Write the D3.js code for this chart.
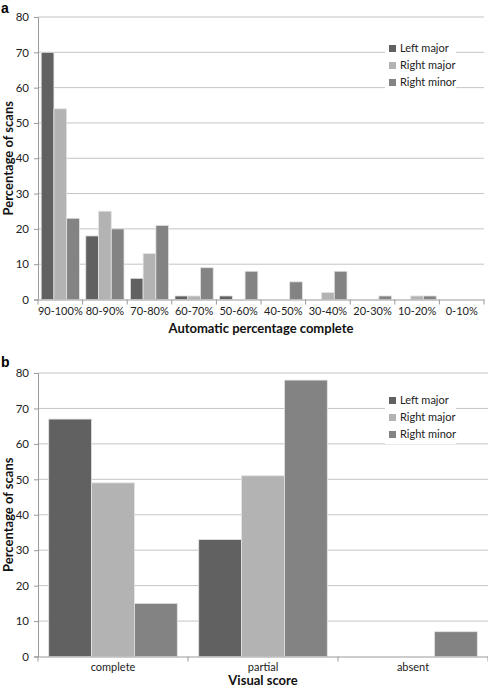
<!DOCTYPE html>
<html><head><meta charset="utf-8">
<script src="https://cdn.jsdelivr.net/npm/d3@7"></script>
<style>body{margin:0;background:#fff}svg{display:block}text{font-family:Lato,"Open Sans",sans-serif}</style>
</head><body><svg id="c" width="488" height="689"></svg>
<script>
const seriesNames = ["Left major", "Right major", "Right minor"];
const seriesColors = ["#616161", "#b3b3b3", "#838383"];
const catsA = ["90-100%","80-90%","70-80%","60-70%","50-60%","40-50%","30-40%","20-30%","10-20%","0-10%"];
const leftMajorA  = [70, 18, 6, 1, 1, 0, 0, 0, 0, 0];
const rightMajorA = [54, 25, 13, 1, 0, 0, 2, 0, 1, 0];
const rightMinorA = [23, 20, 21, 9, 8, 5, 8, 1, 1, 0];
const catsB = ["complete", "partial", "absent"];
const leftMajorB  = [67, 33, 0];
const rightMajorB = [49, 51, 0];
const rightMinorB = [15, 78, 7];
const yTicks = [0, 10, 20, 30, 40, 50, 60, 70, 80];

const svg = d3.select("#c");

function panel(o) {
  const g = svg.append("g");
  const x = d3.scaleBand().domain(o.cats).range([o.x0, o.x1]).paddingInner(0).paddingOuter(0);
  const inner = d3.scaleBand().domain(seriesNames).range([0, x.bandwidth()]).paddingInner(0).paddingOuter(0.25);
  const y = d3.scaleLinear().domain([0, 80]).range([o.yb, o.yt]);
  g.selectAll(".grid").data(yTicks.filter(d => d > 0)).enter().append("line")
    .attr("x1", o.x0).attr("x2", o.x1).attr("y1", d => y(d)).attr("y2", d => y(d))
    .attr("stroke", "#c4c4c4").attr("stroke-width", 1);
  const ya = g.append("g").attr("transform", `translate(${o.x0},0)`)
    .call(d3.axisLeft(y).tickValues(yTicks).tickSize(4).tickPadding(5));
  ya.select(".domain").attr("stroke", "#9a9a9a");
  ya.selectAll(".tick line").attr("stroke", "#9a9a9a");
  ya.selectAll("text").attr("font-size", 11.5).attr("fill", "#222").style("font-family", "Lato");
  o.series.forEach((vals, si) => {
    g.selectAll(".b" + si).data(vals).enter().append("rect")
      .attr("x", (d, i) => x(o.cats[i]) + inner(seriesNames[si]))
      .attr("width", inner.bandwidth())
      .attr("y", d => y(d))
      .attr("height", d => y(0) - y(d))
      .attr("fill", seriesColors[si])
      .attr("stroke", d => d > 0 ? "#e4e4e4" : "none").attr("stroke-width", 0.8);
  });
  const xa = g.append("g").attr("transform", `translate(0,${o.yb})`)
    .call(d3.axisBottom(x).tickSize(0).tickPadding(o.tickPad));
  xa.select(".domain").attr("stroke", "#9a9a9a");
  xa.selectAll("text").attr("font-size", 11).attr("fill", "#222").style("font-family", "Lato");
  const bounds = o.cats.map(c => x(c)).concat([o.x1]);
  g.selectAll(".xt").data(bounds).enter().append("line")
    .attr("x1", d => d).attr("x2", d => d).attr("y1", o.yb).attr("y2", o.yb + 5)
    .attr("stroke", "#9a9a9a");
  g.append("text").attr("x", (o.x0 + o.x1) / 2).attr("y", o.xTitleY).attr("text-anchor", "middle")
    .attr("font-size", 13).attr("font-weight", "bold").attr("fill", "#111").text(o.xTitle);
  g.append("text").attr("transform", `translate(13,${(o.yt + o.yb) / 2}) rotate(-90)`)
    .attr("text-anchor", "middle").attr("font-size", 13).attr("font-weight", "bold").attr("fill", "#111")
    .text("Percentage of scans");
  g.append("text").attr("x", 1).attr("y", o.labelY).attr("font-size", 14).attr("font-weight", "bold")
    .style("font-family", "Liberation Sans, Arial").attr("fill", "#000").text(o.label);
  const lg = g.append("g");
  lg.append("rect").attr("x", 385).attr("y", o.legY - 11).attr("width", 71).attr("height", 52).attr("fill", "#fff");
  seriesNames.forEach((n, i) => {
    lg.append("rect").attr("x", 389).attr("y", o.legY + i * 17 - 6).attr("width", 7).attr("height", 7).attr("fill", seriesColors[i]);
    lg.append("text").attr("x", 400).attr("y", o.legY + i * 17 + 1).attr("font-size", 11).attr("fill", "#222").text(n);
  });
}

panel({cats: catsA, series: [leftMajorA, rightMajorA, rightMinorA], x0: 38, x1: 484, yt: 17, yb: 299.5,
  tickPad: 8, xTitle: "Automatic percentage complete", xTitleY: 333, label: "a", labelY: 13, legY: 51});
panel({cats: catsB, series: [leftMajorB, rightMajorB, rightMinorB], x0: 38, x1: 488, yt: 373, yb: 656.5,
  tickPad: 7, xTitle: "Visual score", xTitleY: 685, label: "b", labelY: 367, legY: 403});
</script></body></html>
